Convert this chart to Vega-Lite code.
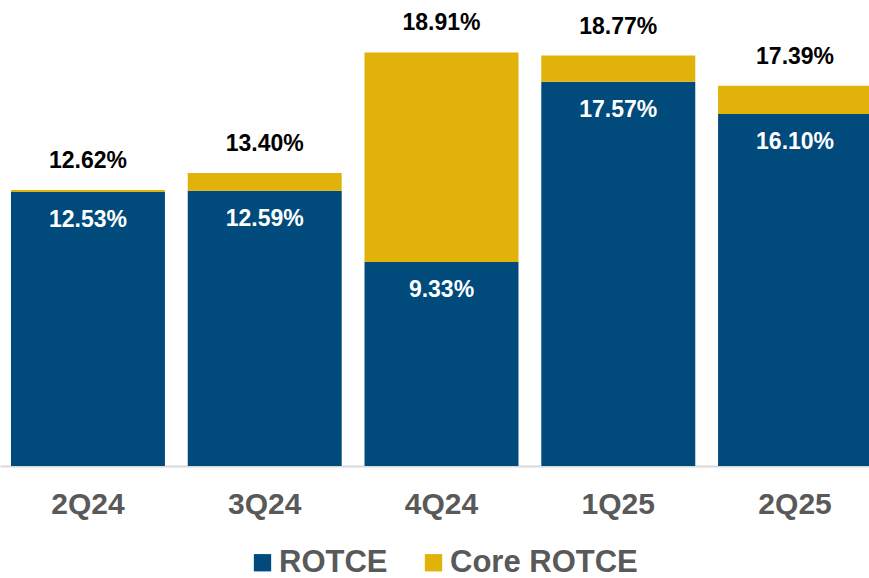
{
  "$schema": "https://vega.github.io/schema/vega-lite/v6.json",
  "autosize": "none",
  "width": 883,
  "height": 466,
  "padding": {"left": 0, "top": 0, "right": 0, "bottom": 112},
  "background": "white",
  "config": {"view": {"stroke": null}, "font": "Liberation Sans"},
  "data": {"values": [
    {"quarter": "2Q24", "rotce": 0.1253, "core": 0.1262},
    {"quarter": "3Q24", "rotce": 0.1259, "core": 0.1340},
    {"quarter": "4Q24", "rotce": 0.0933, "core": 0.1891},
    {"quarter": "1Q25", "rotce": 0.1757, "core": 0.1877},
    {"quarter": "2Q25", "rotce": 0.1610, "core": 0.1739}
  ]},
  "encoding": {
    "x": {"field": "quarter", "type": "nominal", "sort": null,
      "scale": {"paddingInner": 0.129, "paddingOuter": 0.062},
      "axis": {"title": null, "ticks": false, "labelAngle": 0, "labelFontSize": 30, "labelFontWeight": "bold", "labelColor": "#595959", "labelPadding": 23, "domainColor": "#d9d9d9", "domainWidth": 2, "labelFont": "Liberation Sans"}}
  },
  "layer": [
    {"mark": {"type": "bar"},
      "encoding": {
        "y": {"field": "rotce", "type": "quantitative", "scale": {"domain": [0, 0.2131], "nice": false, "zero": true}, "axis": null},
        "color": {"datum": "ROTCE", "type": "nominal",
          "scale": {"domain": ["ROTCE", "Core ROTCE"], "range": ["#004A7C", "#E1B20A"]},
          "legend": {"title": null, "orient": "none", "direction": "horizontal", "legendX": 247, "legendY": 547, "padding": 0, "symbolType": "square", "symbolSize": 300, "symbolStrokeWidth": 0, "symbolOffset": 0, "labelFontSize": 31, "labelFontWeight": "bold", "labelColor": "#595959", "labelOffset": 1, "labelLimit": 0, "columnPadding": 30, "labelFont": "Liberation Sans", "symbolOpacity": 1}}
      }},
    {"mark": {"type": "bar"},
      "encoding": {
        "y": {"field": "rotce", "type": "quantitative"},
        "y2": {"field": "core"},
        "color": {"datum": "Core ROTCE", "type": "nominal"}
      }},
    {"mark": {"type": "text", "fontSize": 23, "fontWeight": "bold", "color": "#000000", "baseline": "alphabetic", "dy": -22},
      "encoding": {
        "y": {"field": "core", "type": "quantitative"},
        "text": {"field": "core", "type": "quantitative", "format": ".2%"}
      }},
    {"mark": {"type": "text", "fontSize": 23, "fontWeight": "bold", "color": "#ffffff", "baseline": "alphabetic", "dy": 35},
      "encoding": {
        "y": {"field": "rotce", "type": "quantitative"},
        "text": {"field": "rotce", "type": "quantitative", "format": ".2%"}
      }}
  ]
}
